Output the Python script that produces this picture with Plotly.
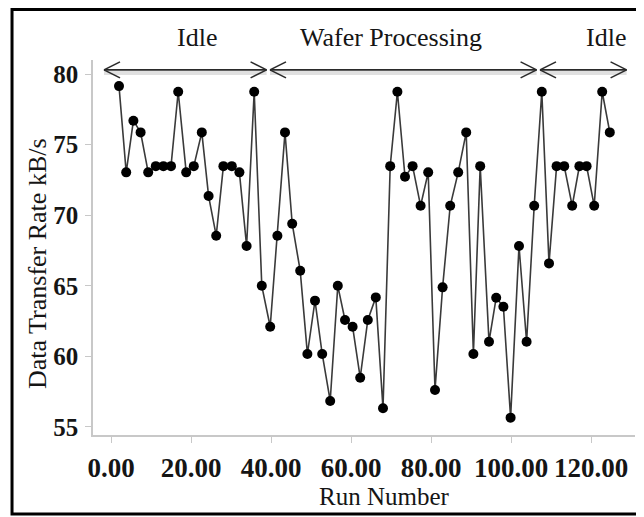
import plotly.graph_objects as go

# ---- data ----
run_number = [2.0, 3.8, 5.6, 7.4, 9.3, 11.2, 13.1, 15.0, 16.8, 18.8, 20.7, 22.7, 24.4, 26.3,
              28.1, 30.2, 32.1, 33.9, 35.8, 37.7, 39.8, 41.6, 43.5, 45.3, 47.3, 49.1, 51.0,
              52.8, 54.8, 56.7, 58.5, 60.4, 62.3, 64.2, 66.2, 68.0, 69.8, 71.6, 73.5, 75.4,
              77.4, 79.3, 81.0, 82.9, 84.8, 86.8, 88.8, 90.6, 92.3, 94.5, 96.3, 98.1, 99.9,
              102.0, 103.9, 105.8, 107.7, 109.5, 111.4, 113.3, 115.3, 117.1, 118.9, 120.8,
              122.8, 124.7]
transfer_rate = [79.15, 73.04, 76.7, 75.87, 73.04, 73.48, 73.48, 73.48, 78.75, 73.04, 73.48,
                 75.87, 71.36, 68.55, 73.48, 73.48, 73.04, 67.82, 78.75, 65.0, 62.1, 68.55,
                 75.87, 69.4, 66.07, 60.17, 63.95, 60.17, 56.84, 65.0, 62.58, 62.1, 58.49,
                 62.58, 64.18, 56.32, 73.48, 78.75, 72.73, 73.48, 70.67, 73.04, 57.62, 64.89,
                 70.67, 73.04, 75.87, 60.17, 73.48, 61.04, 64.16, 63.52, 55.66, 67.82, 61.04,
                 70.67, 78.75, 66.59, 73.48, 73.48, 70.67, 73.48, 73.48, 70.67, 78.75, 75.87]
x_ticks = [0, 20, 40, 60, 80, 100, 120]
y_ticks = [55, 60, 65, 70, 75, 80]
phase_labels = ["Idle", "Wafer Processing", "Idle"]
phase_start = [-1.75, 39.75, 107.25]
phase_end = [38.9, 106.4, 128.9]
phase_label_x = [21.5, 70.0, 123.7]
arrow_level = 80.3
x_title = "Run Number"
y_title = "Data Transfer Rate kB/s"

FONT = "Liberation Serif, Times New Roman, serif"
TXT = "#151515"
AX = "#c8c8c8"

fig = go.Figure()
fig.add_trace(go.Scatter(
    x=run_number, y=transfer_rate, mode="lines+markers",
    line=dict(color="#3a3a3a", width=1.6),
    marker=dict(color="black", size=10),
    showlegend=False, hoverinfo="x+y"))

shapes = []
for s, e in zip(phase_start, phase_end):
    shapes.append(dict(type="line", xref="x", yref="y", ysizemode="pixel", yanchor=arrow_level,
                       x0=s, x1=e, y0=-3, y1=-3, line=dict(color="rgba(0,0,0,0.12)", width=4)))
    shapes.append(dict(type="line", xref="x", yref="y", x0=s, x1=e, y0=arrow_level, y1=arrow_level,
                       line=dict(color="#2a2a2a", width=1.8)))
    for tip, d in ((s, 16), (e, -16)):
        for dy in (8, -8):
            shapes.append(dict(type="line", xref="x", yref="y",
                               xsizemode="pixel", xanchor=tip, x0=0, x1=d,
                               ysizemode="pixel", yanchor=arrow_level, y0=0, y1=dy,
                               line=dict(color="#2a2a2a", width=1.6)))
# outer border
shapes.append(dict(type="rect", xref="paper", yref="paper", x0=-0.1494, x1=1.0111,
                   y0=-0.2107, y1=1.1347, line=dict(color="black", width=3)))

annotations = []
for lab, lx in zip(phase_labels, phase_label_x):
    annotations.append(dict(x=lx, y=1.0587, xref="x", yref="paper", yanchor="middle",
                            text=lab, showarrow=False,
                            font=dict(family=FONT, size=26, color=TXT)))
annotations.append(dict(x=0.537, y=-0.1653, xref="paper", yref="paper",
                        xanchor="center", yanchor="middle", text=x_title, showarrow=False,
                        font=dict(family=FONT, size=25, color=TXT)))
annotations.append(dict(x=-0.1033, y=0.456, xref="paper", yref="paper", textangle=-90,
                        xanchor="center", yanchor="middle", text=y_title, showarrow=False,
                        font=dict(family=FONT, size=26, color=TXT)))

fig.update_layout(
    width=636, height=509,
    margin=dict(l=85, r=9, t=52, b=82, autoexpand=False),
    paper_bgcolor="white", plot_bgcolor="white",
    shapes=shapes, annotations=annotations,
    xaxis=dict(range=[-4.5, 131], tickvals=x_ticks, tickformat=".2f", automargin=False,
               showline=True, linecolor=AX, linewidth=1.5, ticks="outside", tickcolor=AX,
               ticklen=6, tickwidth=1.2, showgrid=False, zeroline=False,
               ticklabelstandoff=2,
               tickfont=dict(family=FONT, size=27, color=TXT, weight="bold")),
    yaxis=dict(range=[54.43, 81.0], tickvals=y_ticks, automargin=False,
               showline=True, linecolor=AX, linewidth=1.5, ticks="outside", tickcolor=AX,
               ticklen=6, tickwidth=1.2, showgrid=False, zeroline=False,
               ticklabelstandoff=2,
               tickfont=dict(family=FONT, size=25, color=TXT, weight="bold")),
)

fig.write_html("out.html")
